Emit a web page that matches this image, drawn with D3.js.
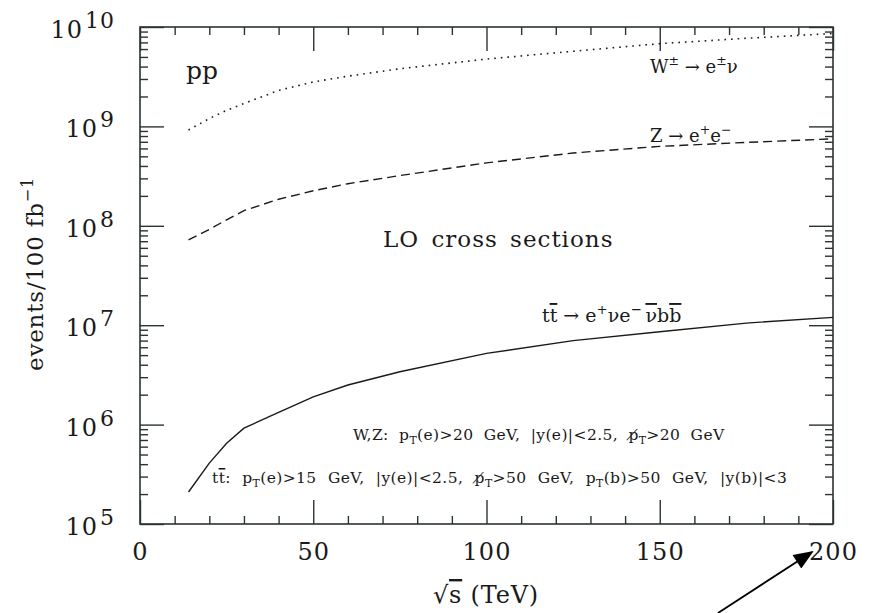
<!DOCTYPE html>
<html>
<head>
<meta charset="utf-8">
<script src="https://cdn.jsdelivr.net/npm/d3@7"></script>
<style>
  body { margin: 0; background: #fff; }
  text { font-family: "DejaVu Serif", serif; fill: #1a1a1a; }
</style>
</head>
<body>
<svg id="chart" width="874" height="613"></svg>
<script>
// sqrt(s) in TeV
const energy = [14, 20, 25, 30, 40, 50, 60, 75, 100, 125, 150, 175, 200];
// events / 100 fb^-1
const wEvents  = [9.2e8, 1.2e9, 1.45e9, 1.7e9, 2.3e9, 2.8e9, 3.2e9, 3.8e9, 4.76e9, 5.7e9, 6.8e9, 7.7e9, 8.6e9];
const zEvents  = [7.2e7, 9.2e7, 1.15e8, 1.42e8, 1.85e8, 2.25e8, 2.65e8, 3.2e8, 4.3e8, 5.4e8, 6.3e8, 6.9e8, 7.5e8];
const ttEvents = [2.1e5, 4.1e5, 6.5e5, 9.2e5, 1.33e6, 1.9e6, 2.5e6, 3.4e6, 5.2e6, 7.0e6, 8.6e6, 1.05e7, 1.2e7];

const xMajor = [0, 50, 100, 150, 200];
const xMinor = d3.range(0, 201, 10).filter(v => v % 50 !== 0);
const yPowers = [5, 6, 7, 8, 9, 10];

const margin = { top: 27, right: 41, bottom: 89, left: 140 };
const width = 874 - margin.left - margin.right;
const height = 613 - margin.top - margin.bottom;

const svg = d3.select("#chart");
const g = svg.append("g")
  .attr("transform", "translate(" + margin.left + "," + margin.top + ")");

const x = d3.scaleLinear().domain([0, 200]).range([0, width]);
const y = d3.scaleLog().domain([1e5, 1e10]).range([height, 0]);

const yAll = y.ticks();
const yMajor = yPowers.map(p => Math.pow(10, p));
const yMinor = yAll.filter(v => Math.abs(Math.log10(v) - Math.round(Math.log10(v))) > 1e-6);

const axisColor = "#2b3333";

function styleAxis(sel) {
  sel.select(".domain").remove();
  sel.selectAll("line").attr("stroke", axisColor).attr("stroke-width", 1.4);
}

// bottom
g.append("g").attr("transform", "translate(0," + height + ")")
  .call(d3.axisBottom(x).tickValues(xMajor).tickSize(-24).tickSizeOuter(0).tickPadding(19))
  .call(styleAxis)
  .call(a => a.selectAll("text")
    .attr("font-family", "DejaVu Serif").attr("font-size", 24).attr("fill", "#1a1a1a")
    .attr("letter-spacing", 1));
g.append("g").attr("transform", "translate(0," + height + ")")
  .call(d3.axisBottom(x).tickValues(xMinor).tickSize(-8).tickFormat(""))
  .call(styleAxis);
// top
g.append("g")
  .call(d3.axisTop(x).tickValues(xMajor).tickSize(-24).tickFormat(""))
  .call(styleAxis);
g.append("g")
  .call(d3.axisTop(x).tickValues(xMinor).tickSize(-8).tickFormat(""))
  .call(styleAxis);
// left
g.append("g")
  .call(d3.axisLeft(y).tickValues(yMajor).tickSize(-24).tickFormat(""))
  .call(styleAxis);
g.append("g")
  .call(d3.axisLeft(y).tickValues(yMinor).tickSize(-8).tickFormat(""))
  .call(styleAxis);
// right
g.append("g").attr("transform", "translate(" + width + ",0)")
  .call(d3.axisRight(y).tickValues(yMajor).tickSize(-24).tickFormat(""))
  .call(styleAxis);
g.append("g").attr("transform", "translate(" + width + ",0)")
  .call(d3.axisRight(y).tickValues(yMinor).tickSize(-8).tickFormat(""))
  .call(styleAxis);

g.append("rect")
  .attr("width", width).attr("height", height)
  .attr("fill", "none").attr("stroke", axisColor).attr("stroke-width", 1.6);

// y tick labels 10^n
yPowers.forEach(p => {
  const t = g.append("text")
    .attr("x", -25).attr("y", y(Math.pow(10, p)) + 11)
    .attr("text-anchor", "end").attr("font-size", 24).attr("letter-spacing", 1);
  t.append("tspan").text("10");
  t.append("tspan").attr("dy", -10).attr("dx", 2).attr("font-size", 22).text(p);
});

// curves
const line = d3.line()
  .x((d, i) => x(energy[i]))
  .y(d => y(d));

g.append("path").datum(wEvents)
  .attr("fill", "none").attr("stroke", "#1a1a1a").attr("stroke-width", 1.6)
  .attr("stroke-dasharray", "1.6,5")
  .attr("d", line);
g.append("path").datum(zEvents)
  .attr("fill", "none").attr("stroke", "#1a1a1a").attr("stroke-width", 1.4)
  .attr("stroke-dasharray", "9,5")
  .attr("d", line);
g.append("path").datum(ttEvents)
  .attr("fill", "none").attr("stroke", "#1a1a1a").attr("stroke-width", 1.4)
  .attr("d", line);

// rich text helper: parts = [text, kind]
function rich(px, py, size, parts, anchor, parent) {
  const t = (parent || svg).append("text")
    .attr("x", px).attr("y", py)
    .attr("font-size", size)
    .attr("text-anchor", anchor || "start");
  let shift = 0;
  parts.forEach(([s, kind]) => {
    const target = kind === "sup" ? -0.42 * size : kind === "sub" ? 0.28 * size : 0;
    const ts = t.append("tspan").attr("dy", target - shift).text(s);
    if (kind === "sup" || kind === "sub") ts.attr("font-size", size * 0.7);
    if (kind === "bar") ts.style("text-decoration", "overline");
    shift = target;
  });
  return t;
}

rich(186, 79, 25, [["pp", ""]]);
rich(650, 73, 18, [["W", ""], ["±", "sup"], [" → e", ""], ["±", "sup"], ["ν", ""]]);
rich(650, 142, 18, [["Z → e", ""], ["+", "sup"], ["e", ""], ["−", "sup"]]);
rich(383, 247, 23, [["LO cross sections", ""]]).attr("letter-spacing", 1).style("word-spacing", "4px");
rich(542, 322, 19, [["t", ""], ["t", "bar"], [" → e", ""], ["+", "sup"], ["νe", ""], ["−", "sup"],
  ["\u2009", ""], ["ν", "bar"], ["b", ""], ["b", "bar"]]);

rich(353, 440, 15.5, [["W,Z: p", ""], ["T", "sub"], ["(e)>20 GeV, |y(e)|<2.5, p\u0338", ""], ["T", "sub"],
  [">20 GeV", ""]]).attr("letter-spacing", 0.4).style("word-spacing", "5px");
rich(212, 483, 15.5, [["t", ""], ["t", "bar"], [": p", ""], ["T", "sub"], ["(e)>15 GeV, |y(e)|<2.5, p\u0338", ""],
  ["T", "sub"], [">50 GeV, p", ""], ["T", "sub"], ["(b)>50 GeV, |y(b)|<3", ""]])
  .attr("letter-spacing", 0.4).style("word-spacing", "6px");

// axis titles
rich(0, 0, 23, [["events/100 fb", ""], ["−1", "sup"]], "middle")
  .attr("letter-spacing", 0.8)
  .attr("transform", "translate(43,274) rotate(-90)");
rich(486, 603, 24, [["√", ""], ["s", "bar"], [" (TeV)", ""]], "middle").attr("letter-spacing", 0.8);

// arrow
svg.append("defs").append("marker")
  .attr("id", "head").attr("viewBox", "0 0 10 8")
  .attr("refX", 9).attr("refY", 4)
  .attr("markerWidth", 22).attr("markerHeight", 16)
  .attr("markerUnits", "userSpaceOnUse")
  .attr("orient", "auto")
  .append("path").attr("d", "M0,0 L10,4 L0,8 z").attr("fill", "#000");
svg.append("line")
  .attr("x1", margin.left + x(200) - 115).attr("y1", 613)
  .attr("x2", margin.left + x(200) - 21).attr("y2", margin.top + height + 28)
  .attr("stroke", "#000").attr("stroke-width", 1.8)
  .attr("marker-end", "url(#head)");
</script>
</body>
</html>
